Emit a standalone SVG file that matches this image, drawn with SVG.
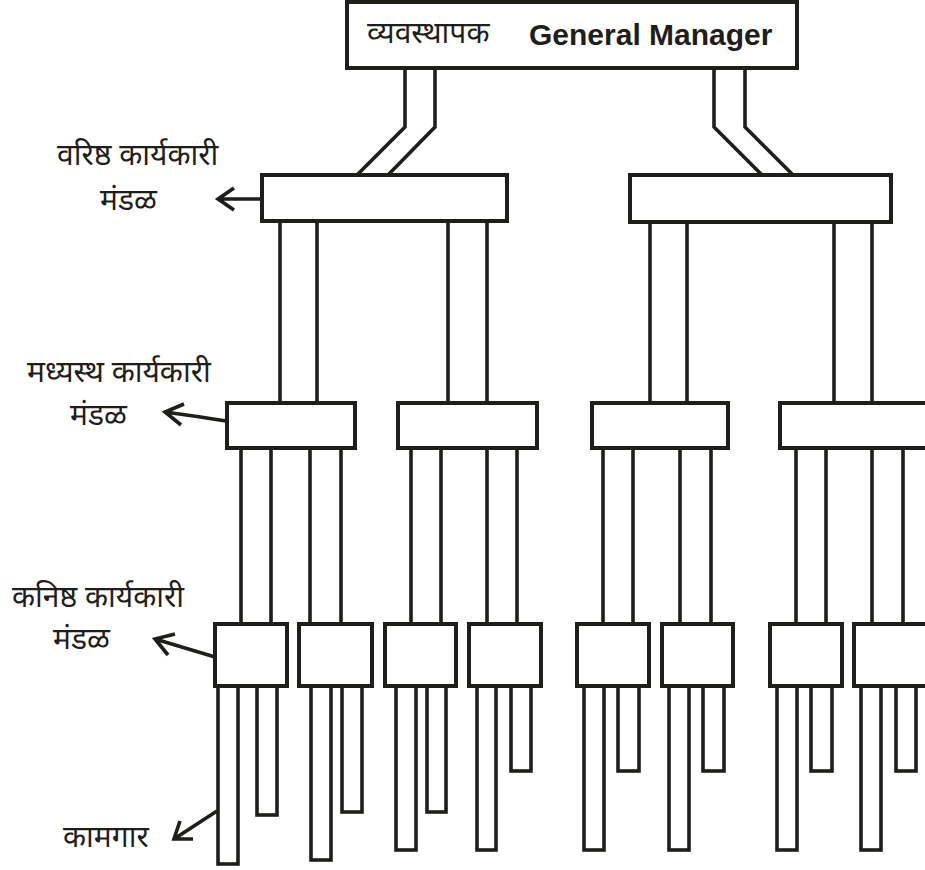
<svg xmlns="http://www.w3.org/2000/svg" width="925" height="870" viewBox="0 0 925 870">
<style>
.box{fill:#fff;stroke:#1f1e1a;stroke-width:4}
.ln{fill:none;stroke:#1f1e1a;stroke-width:3.6}
.tube{fill:#fff;stroke:#1f1e1a;stroke-width:3.6}
.arr{fill:none;stroke:#1f1e1a;stroke-width:3.6;stroke-linecap:butt;stroke-linejoin:miter}
.dv{font-family:"Noto Sans Devanagari","Lohit Devanagari","Noto Sans",sans-serif;font-size:30px;fill:#1f1e1a}
.en{font-family:"Liberation Sans",Arial,sans-serif;font-size:30px;font-weight:bold;fill:#1f1e1a}
</style>
<rect width="925" height="870" fill="#fff"/>
<g id="connectors">
<polyline class="ln" points="405,68 405,127 357,175"/>
<polyline class="ln" points="435,68 435,127 388,175"/>
<polyline class="ln" points="714,68 714,127 762,175"/>
<polyline class="ln" points="745,68 745,127 793,175"/>
<path class="ln" d="M280,221V403M317,221V403M448,221V403M487,221V403M650,222V403M687,222V403M834,222V403M872,222V403"/>
<path class="ln" d="M241,448V624M271,448V624M310,448V624M341,448V624M411,448V624M441,448V624M487,448V624M517,448V624M603,448V624M633,448V624M680,448V624M711,448V624M796,448V624M826,448V624M872,448V624M903,448V624"/>
<rect class="tube" x="218" y="686" width="20" height="178"/>
<rect class="tube" x="257" y="686" width="20" height="129"/>
<rect class="tube" x="311" y="686" width="20" height="174"/>
<rect class="tube" x="342" y="686" width="20" height="126"/>
<rect class="tube" x="396" y="686" width="20" height="164"/>
<rect class="tube" x="427" y="686" width="19" height="126"/>
<rect class="tube" x="477" y="686" width="19" height="164"/>
<rect class="tube" x="511" y="686" width="20" height="85"/>
<rect class="tube" x="584" y="686" width="20" height="164"/>
<rect class="tube" x="618" y="686" width="21" height="85"/>
<rect class="tube" x="669" y="686" width="20" height="164"/>
<rect class="tube" x="703" y="686" width="21" height="85"/>
<rect class="tube" x="777" y="686" width="20" height="164"/>
<rect class="tube" x="811" y="686" width="21" height="85"/>
<rect class="tube" x="861" y="686" width="20" height="164"/>
<rect class="tube" x="896" y="686" width="20" height="85"/>
<path class="arr" d="M262,199H218M234,188L218,199L234,210"/>
<path class="arr" d="M226,421Q195,416 165,412M184,404L165,412L181,425"/>
<path class="arr" d="M215,657L155,639M175,634L155,639L168,655"/>
<path class="arr" d="M217,811L174,839M180,821L174,839L193,839"/>
</g>
<g id="gm">
<rect class="box" x="347" y="2" width="450" height="66"/>
<text class="dv" x="367" y="43">व्यवस्थापक</text>
<text class="en" x="529" y="45">General Manager</text>
</g>
<g id="senior-left"><rect class="box" x="262" y="175" width="245" height="46"/></g>
<g id="senior-right"><rect class="box" x="630" y="175" width="261" height="47"/></g>
<g id="middle-1"><rect class="box" x="227" y="403" width="128" height="45"/></g>
<g id="middle-2"><rect class="box" x="398" y="403" width="139" height="45"/></g>
<g id="middle-3"><rect class="box" x="592" y="403" width="136" height="45"/></g>
<g id="middle-4"><rect class="box" x="780" y="403" width="170" height="45"/></g>
<g id="junior-1"><rect class="box" x="215" y="624" width="72" height="62"/></g>
<g id="junior-2"><rect class="box" x="299" y="624" width="73" height="62"/></g>
<g id="junior-3"><rect class="box" x="385" y="624" width="71" height="62"/></g>
<g id="junior-4"><rect class="box" x="469" y="624" width="72" height="62"/></g>
<g id="junior-5"><rect class="box" x="577" y="624" width="72" height="62"/></g>
<g id="junior-6"><rect class="box" x="662" y="624" width="71" height="62"/></g>
<g id="junior-7"><rect class="box" x="770" y="624" width="72" height="62"/></g>
<g id="junior-8"><rect class="box" x="854" y="624" width="90" height="62"/></g>
<g id="labels">
<text class="dv" x="57" y="165">वरिष्ठ कार्यकारी</text>
<text class="dv" x="100" y="210">मंडळ</text>
<text class="dv" x="27" y="382">मध्यस्थ कार्यकारी</text>
<text class="dv" x="70" y="425">मंडळ</text>
<text class="dv" x="12" y="607">कनिष्ठ कार्यकारी</text>
<text class="dv" x="53" y="649">मंडळ</text>
<text class="dv" x="63" y="847">कामगार</text>
</g>
</svg>
